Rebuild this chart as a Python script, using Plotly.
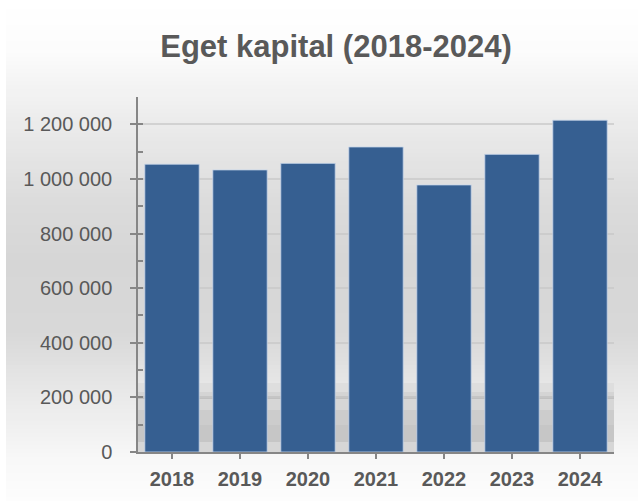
import plotly.graph_objects as go

years = ["2018", "2019", "2020", "2021", "2022", "2023", "2024"]
equity = [1054000, 1033000, 1057000, 1117000, 978000, 1090000, 1215000]
y_ticks = [0, 200000, 400000, 600000, 800000, 1000000, 1200000]
title_text = "Eget kapital (2018-2024)"

W, H = 638, 502
L, R, T, B = 138, 24, 97, 50
pw, ph = W - L - R, H - T - B

def px_x(p):
    return (p - L) / pw

def px_y(p):
    return (H - B - p) / ph

# background gradient (pixel y, gray level)
stops = [(0, 255), (50, 252), (110, 238), (200, 220), (260, 214), (330, 216), (400, 234), (460, 248), (502, 253)]

def gray_at(y):
    for (y0, g0), (y1, g1) in zip(stops[:-1], stops[1:]):
        if y0 <= y <= y1:
            return g0 + (g1 - g0) * (y - y0) / (y1 - y0)
    return 255

shapes = []
shapes.append(dict(type="rect", xref="paper", yref="paper", x0=px_x(0), x1=px_x(W), y0=px_y(H), y1=px_y(0),
                   fillcolor="white", line_width=0, layer="below"))
step = 4
for y in range(5, H, step):
    g = int(round(gray_at(y + step / 2)))
    shapes.append(dict(type="rect", xref="paper", yref="paper", x0=px_x(6), x1=px_x(W), y0=px_y(min(y + step, H)), y1=px_y(y),
                       fillcolor=f"rgb({g},{g},{g})", line_width=0, layer="below"))

# shadow band near the bottom of the plot area
band = [(383, 392, 222), (392, 396, 212), (396, 399, 192), (399, 410, 214), (410, 425, 204), (425, 442, 198), (442, 452, 214)]
for y0, y1, g in band:
    shapes.append(dict(type="rect", xref="paper", yref="paper", x0=0, x1=1, y0=px_y(y1), y1=px_y(y0),
                       fillcolor=f"rgb({g},{g},{g})", line_width=0, layer="below"))

axis_color = "#868686"
font_color = "#595959"
y_range = [0, 1300000]

fig = go.Figure()
fig.add_trace(go.Bar(
    x=years, y=equity,
    marker=dict(color="#365f91", line=dict(color="rgba(200,215,235,0.8)", width=1)),
    width=0.8, hoverinfo="x+y",
))
# invisible helper trace so the overlaid tick axis is drawn
fig.add_trace(go.Scatter(x=years, y=equity, yaxis="y2", mode="markers",
                         marker=dict(opacity=0), hoverinfo="skip", showlegend=False))

fig.update_layout(
    width=W, height=H,
    margin=dict(l=L, r=R, t=T, b=B, pad=0),
    paper_bgcolor="white",
    plot_bgcolor="rgba(0,0,0,0)",
    separators=", ",
    font=dict(family="Liberation Sans, Arial, sans-serif", color=font_color),
    title=dict(text=title_text, x=336 / W, xanchor="center", y=1 - 46 / H, yanchor="middle",
               font=dict(size=31, color=font_color, family="Liberation Sans, Arial, sans-serif", weight="bold")),
    shapes=shapes,
    showlegend=False,
    bargap=0.2,
    xaxis=dict(
        showline=True, linecolor=axis_color, linewidth=1.5,
        ticks="outside", ticklen=5, tickcolor=axis_color, tickwidth=1.5,
        tickfont=dict(size=20, color=font_color, weight="bold"),
        ticklabelstandoff=3,
        showgrid=False,
    ),
    yaxis=dict(
        range=y_range,
        tickvals=y_ticks,
        tickformat=",d",
        showline=True, linecolor=axis_color, linewidth=1.5,
        ticks="outside", ticklen=6, tickcolor=axis_color, tickwidth=1.5,
        showgrid=True, gridcolor="rgba(200,200,200,0.7)", gridwidth=2,
        zeroline=False,
        tickfont=dict(size=20, color=font_color),
        ticklabelstandoff=14,
    ),
    yaxis2=dict(
        overlaying="y", side="left", range=y_range, dtick=100000, tick0=0,
        ticks="inside", ticklen=5, tickcolor=axis_color, tickwidth=1.5,
        showticklabels=False, showgrid=False, zeroline=False, showline=False,
    ),
)

fig.write_html("out.html", config={"displayModeBar": False},
               post_script="document.body.style.margin='0px';")
